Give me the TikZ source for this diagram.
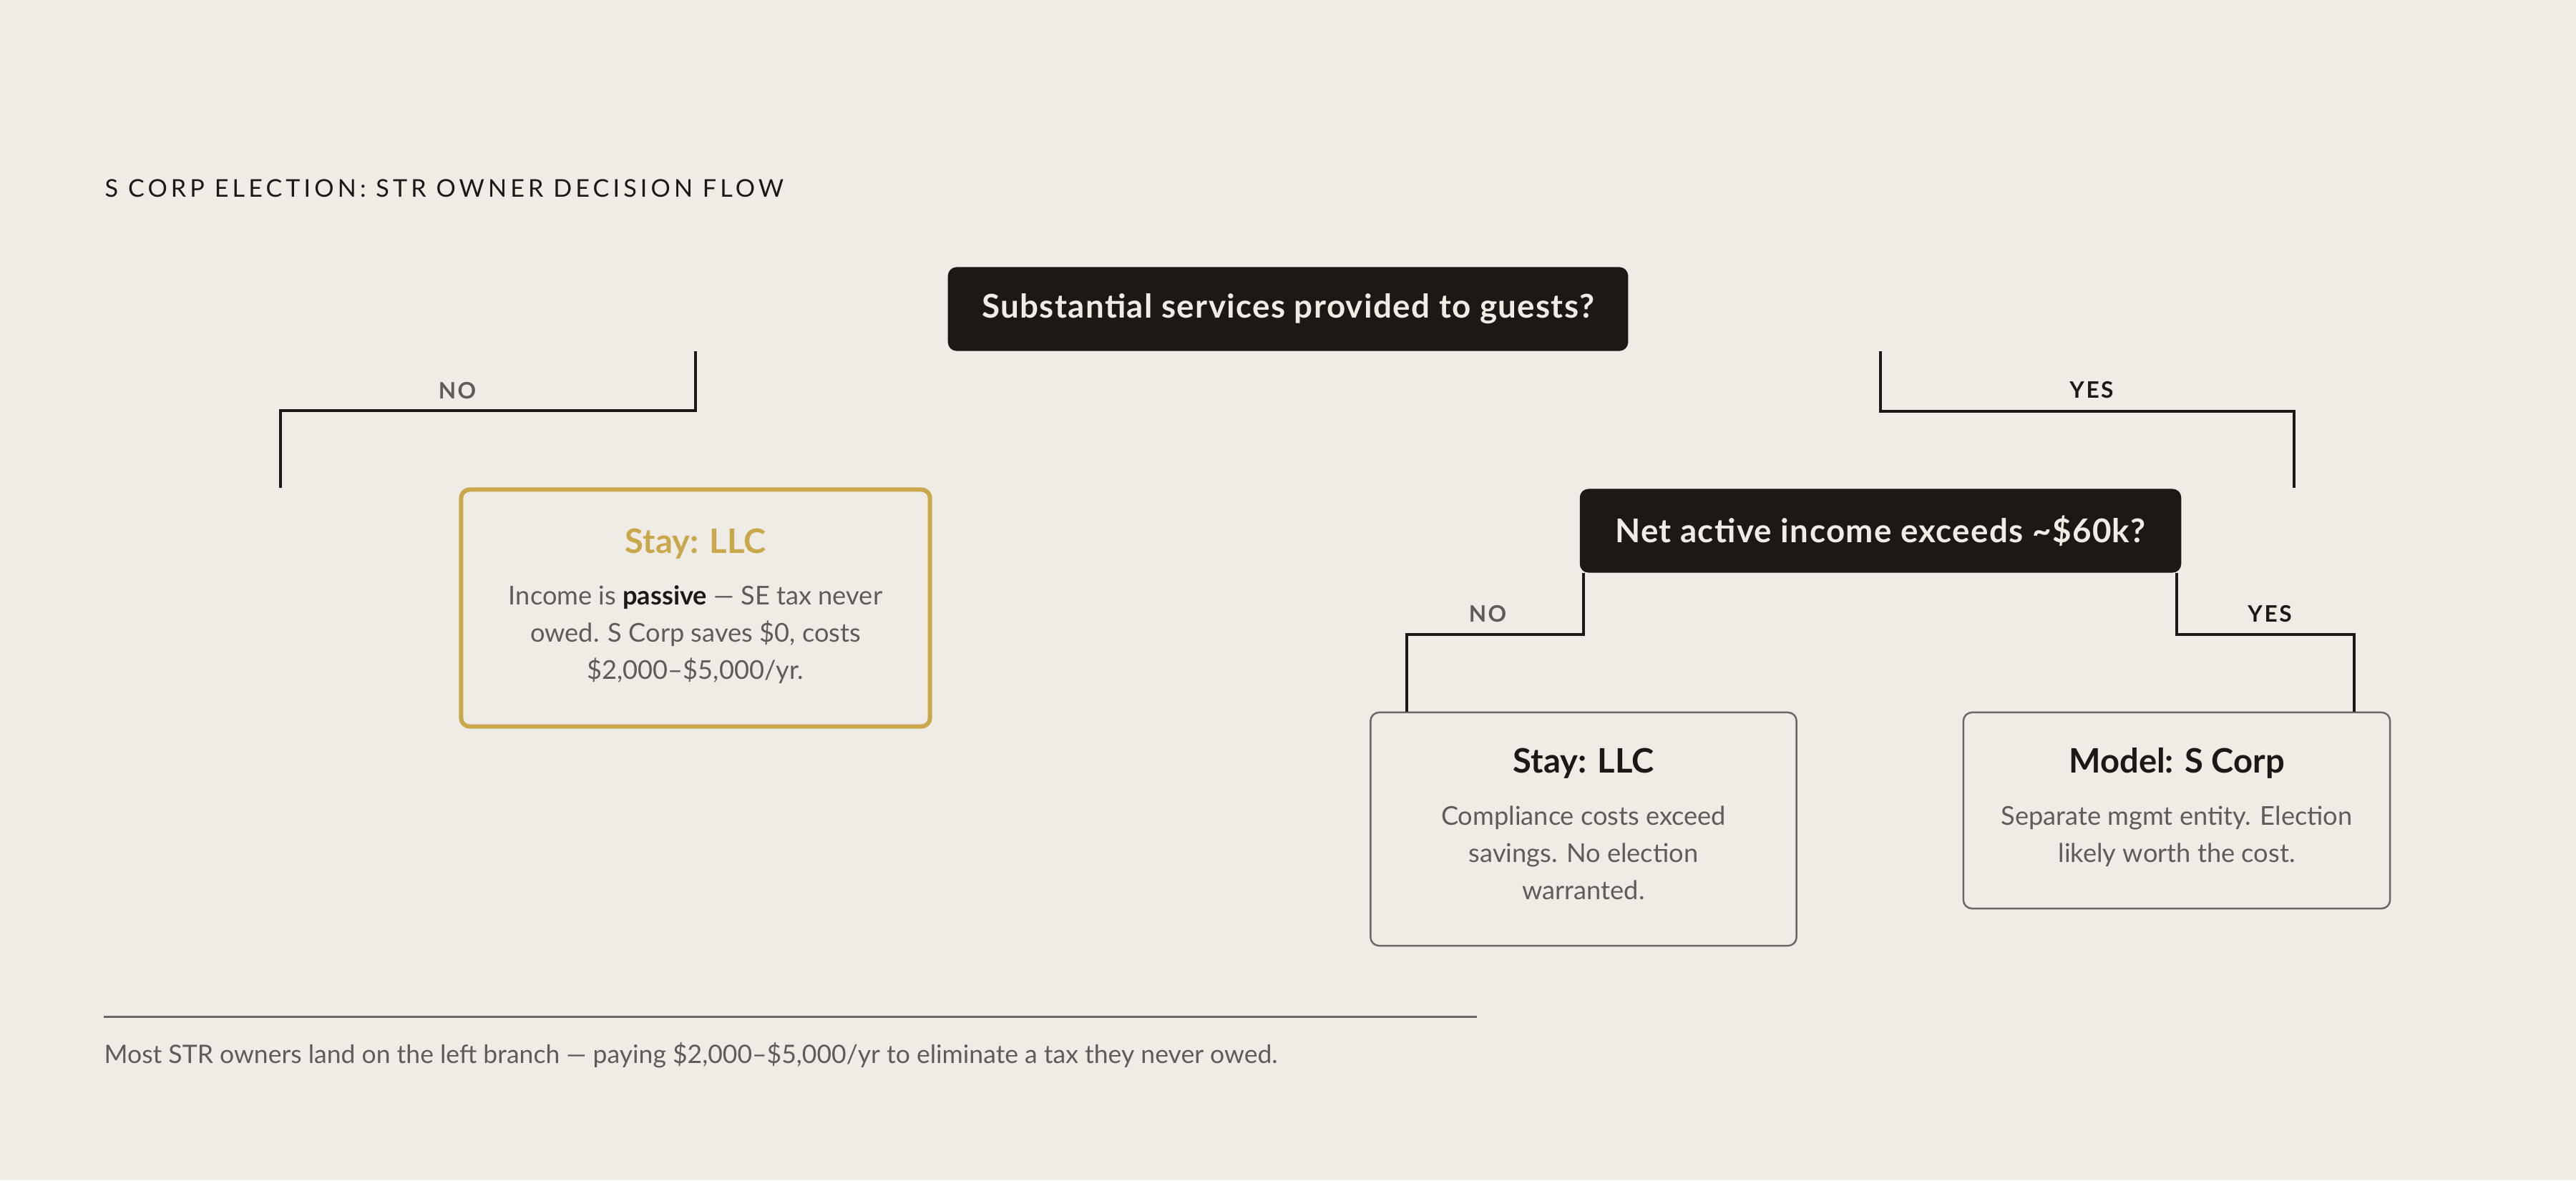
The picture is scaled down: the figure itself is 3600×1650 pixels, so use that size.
\documentclass[tikz,border=0pt]{standalone}
\usepackage{fontspec}
\setmainfont{Lato}
\usepackage{tikz}

\definecolor{paper}{HTML}{EFEBE5}
\definecolor{ink}{HTML}{1C1815}
\definecolor{gold}{HTML}{C9A84C}
\definecolor{stone}{HTML}{5F5B56}
\definecolor{edge}{HTML}{6B6762}

\begin{document}
\begin{tikzpicture}[x=0.01cm,y=-0.01cm,
  question/.style={fill=ink,text=paper,rounded corners=0.12cm,inner sep=0pt,minimum height=1.17cm,
    font=\fontsize{13}{15}\selectfont\bfseries\addfontfeature{LetterSpace=3}},
  leafbox/.style={draw=edge,line width=0.7pt,rounded corners=0.12cm,inner sep=0pt},
  leaftitle/.style={anchor=base,inner sep=0pt,font=\fontsize{13.4}{16}\selectfont\bfseries},
  leafbody/.style={anchor=north,inner sep=0pt,align=center,text=stone,font=\fontsize{10.3}{14.8}\selectfont},
  branch/.style={inner sep=0pt,font=\fontsize{9}{10}\selectfont\bfseries\addfontfeature{LetterSpace=8}},
  link/.style={ink,line width=1.3pt}]

  \fill[paper] (0,0) rectangle (3600,1650);
  \useasboundingbox (0,0) rectangle (3600,1650);

  \node[anchor=base west,inner sep=0pt,text=ink,font=\fontsize{9.7}{11}\selectfont\addfontfeature{LetterSpace=15}]
    (heading) at (146,275) {S CORP ELECTION: STR OWNER DECISION FLOW};

  % questions
  \node[question,minimum width=9.5cm] (q1) at (1800,432) {Substantial services provided to guests?};
  \node[question,minimum width=8.4cm] (q2) at (2628,742) {Net active income exceeds \textasciitilde\$60k?};

  % outcomes
  \node[leafbox,draw=gold,line width=1.7pt,minimum width=6.55cm,minimum height=3.31cm] (llc) at (972,850) {};
  \node[leaftitle,text=gold] (llct) at (972,773) {Stay: LLC};
  \node[leafbody] (llcb) at (972,818) {Income is {\color{ink}\bfseries passive} — SE tax never\\owed. S Corp saves \$0, costs\\\$2,000–\$5,000/yr.};

  \node[leafbox,minimum width=5.95cm,minimum height=3.26cm] (stay) at (2213,1159) {};
  \node[leaftitle,text=ink] (stayt) at (2213,1080) {Stay: LLC};
  \node[leafbody] (stayb) at (2213,1126) {Compliance costs exceed\\savings. No election\\warranted.};

  \node[leafbox,minimum width=5.96cm,minimum height=2.74cm] (scorp) at (3042,1133) {};
  \node[leaftitle,text=ink] (scorpt) at (3042,1080) {Model: S Corp};
  \node[leafbody] (scorpb) at (3042,1126) {Separate mgmt entity. Election\\likely worth the cost.};

  % branches
  \coordinate (llcend) at (392,682);
  \coordinate (q2end) at (3206,682);
  \coordinate (stayend) at (1966,995);
  \coordinate (scorpend) at (3290,995);
  \draw[link] (llc.north |- q1.south) -- (llc.north |- 0,574) -| (llcend);
  \draw[link] (q2.north |- q1.south) -- (q2.north |- 0,575) -| (q2end);
  \draw[link] (stay.north |- q2.south) -- (stay.north |- 0,887) -| (stayend);
  \draw[link] (scorp.north |- q2.south) -- (scorp.north |- 0,887) -| (scorpend);

  \node[branch,text=stone] (no1) at (639,546) {NO};
  \node[branch,text=ink] (yes1) at (2923,545) {YES};
  \node[branch,text=stone] (no2) at (2079,858) {NO};
  \node[branch,text=ink] (yes2) at (3172,858) {YES};

  % footnote
  \coordinate (rulestart) at (145,1421);
  \coordinate (ruleend) at (2064,1421);
  \draw[edge,line width=0.85pt] (rulestart) -- (ruleend);
  \node[anchor=base west,inner sep=0pt,text=stone,font=\fontsize{10.1}{12}\selectfont]
    (note) at (145,1486) {Most STR owners land on the left branch — paying \$2,000–\$5,000/yr to eliminate a tax they never owed.};
\end{tikzpicture}
\end{document}
